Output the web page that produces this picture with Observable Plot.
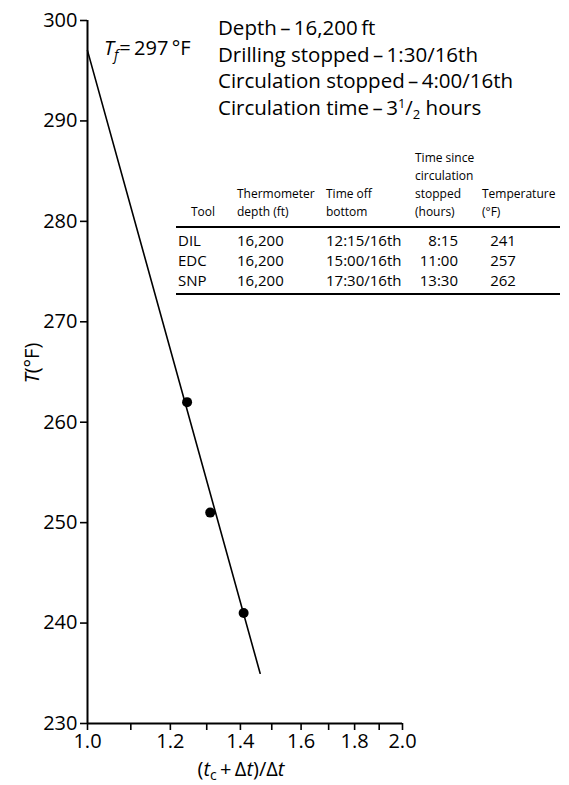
<!DOCTYPE html>
<html><head><meta charset="utf-8">
<script src="https://cdn.jsdelivr.net/npm/d3@7"></script>
<script src="https://cdn.jsdelivr.net/npm/@observablehq/plot@0.6"></script>
<style>
body{margin:0;background:#fff;}
#wrap{position:relative;width:569px;height:785px;font-family:"Open Sans",sans-serif;color:#000;}
.cell{position:absolute;white-space:nowrap;}
.hdr{font-size:12px;line-height:18px;}
.dat{font-size:15px;line-height:20px;}
.rule{position:absolute;left:176px;width:384px;height:2px;background:#000;}
</style></head>
<body><div id="wrap"></div>
<script>
// ---- data ----
const xTicks = [1.0,1.1,1.2,1.3,1.4,1.5,1.6,1.7,1.8,1.9,2.0];
const xTickLabels = ["1.0","","1.2","","1.4","","1.6","","1.8","","2.0"];
const yTicks = [230,240,250,260,270,280,290,300];
const pointX = [1.245, 1.31, 1.41];
const pointT = [262, 251, 241];
const fitX = [1.0, 1.462];
const fitT = [297, 235];
const tools = ["DIL","EDC","SNP"];
const depths = ["16,200","16,200","16,200"];
const timeOff = ["12:15/16th","15:00/16th","17:30/16th"];
const timeSince = ["8:15","11:00","13:30"];
const temps = ["241","257","262"];
const headers = ["Tool","Thermometer<br>depth (ft)","Time off<br>bottom","Time since<br>circulation<br>stopped<br>(hours)","Temperature<br>(°F)"];

const points = pointX.map((x,i)=>({x, t: pointT[i]}));
const fit = fitX.map((x,i)=>({x, t: fitT[i]}));
const xLabelOf = d => { const k = xTicks.findIndex(v => Math.abs(v - d) < 1e-6); return k >= 0 ? xTickLabels[k] : ""; };

const plot = Plot.plot({
  width: 569, height: 785,
  marginLeft: 87, marginRight: 167, marginTop: 20, marginBottom: 62,
  style: {fontFamily: '"Open Sans", sans-serif', background: "#fff", color: "#000"},
  x: {type: "log", domain: [1, 2]},
  y: {domain: [230, 300]},
  marks: [
    Plot.axisX({ticks: xTicks, tickFormat: xLabelOf, tickSize: 7, tickPadding: 3, fontSize: 20, strokeWidth: 1.6, label: null}),
    Plot.axisY({ticks: yTicks, tickFormat: d => String(d), tickSize: 7, tickPadding: 3, fontSize: 20, strokeWidth: 1.6, label: null}),
    Plot.ruleX([1], {stroke: "#000", strokeWidth: 2}),
    Plot.ruleY([230], {stroke: "#000", strokeWidth: 2}),
    Plot.line(fit, {x: "x", y: "t", stroke: "#000", strokeWidth: 1.6}),
    Plot.dot(points, {x: "x", y: "t", r: 5, fill: "#000", stroke: "none"})
  ]
});
const wrap = document.getElementById("wrap");
wrap.appendChild(plot);

const svg = d3.select(plot);
const ff = '"Open Sans", sans-serif';
// Tf label
const tf = svg.append("text").attr("x", 104).attr("y", 55).attr("text-anchor","start").attr("font-size", 20).attr("font-family", ff);
tf.append("tspan").attr("font-style","italic").text("T");
tf.append("tspan").attr("font-style","italic").attr("font-size",14).attr("dy",5).text("f");
tf.append("tspan").attr("dy",-5).attr("dx",1).text("=\u2009297\u2009°F");

// info lines
const infoY = [35, 61.5, 88, 114.5];
const infoLines = ["Depth\u2009–\u200916,200\u2009ft","Drilling stopped\u2009–\u20091:30/16th","Circulation stopped\u2009–\u20094:00/16th"];
infoLines.forEach((s,i)=>{
  svg.append("text").attr("x",218).attr("y",infoY[i]).attr("text-anchor","start").attr("font-size",20.5).attr("font-family",ff).text(s);
});
const l4 = svg.append("text").attr("x",218).attr("y",infoY[3]).attr("text-anchor","start").attr("font-size",20.5).attr("font-family",ff);
l4.append("tspan").text("Circulation time\u2009–\u20093");
l4.append("tspan").attr("font-size",13).attr("dy",-7).text("1");
l4.append("tspan").attr("dy",7).text("/");
l4.append("tspan").attr("font-size",13).attr("dy",4).text("2");
l4.append("tspan").attr("dy",-4).text(" hours");

// axis labels
const xl = svg.append("text").attr("x",241).attr("y",776).attr("text-anchor","middle").attr("font-size",20).attr("font-family",ff);
xl.append("tspan").text("(");
xl.append("tspan").attr("font-style","italic").text("t");
xl.append("tspan").attr("font-size",14).attr("dy",4).text("c");
xl.append("tspan").attr("dy",-4).text("\u2009+\u2009Δ");
xl.append("tspan").attr("font-style","italic").text("t");
xl.append("tspan").text(")/Δ");
xl.append("tspan").attr("font-style","italic").text("t");

const yl = svg.append("text").attr("transform","translate(39,363) rotate(-90)").attr("text-anchor","middle").attr("font-size",20).attr("font-family",ff);
yl.append("tspan").attr("font-style","italic").text("T");
yl.append("tspan").text("(°F)");

// table (HTML overlay)
const colX = [191, 237, 326, 415, 482];
headers.forEach((h,i)=>{
  const d = document.createElement("div");
  d.className = "cell hdr";
  d.style.left = colX[i] + "px";
  d.style.bottom = (785 - 221) + "px";
  d.innerHTML = h;
  wrap.appendChild(d);
});
const r1 = document.createElement("div"); r1.className="rule"; r1.style.top="226px"; wrap.appendChild(r1);
const r2 = document.createElement("div"); r2.className="rule"; r2.style.top="293px"; wrap.appendChild(r2);
const rowTop = [230, 250, 270];
const dataX = [178, 237, 326];
tools.forEach((t,i)=>{
  [t, depths[i], timeOff[i]].forEach((txt,j)=>{
    const d = document.createElement("div");
    d.className="cell dat"; d.style.left = dataX[j]+"px"; d.style.top = rowTop[i]+"px"; d.textContent = txt;
    wrap.appendChild(d);
  });
  const ts = document.createElement("div");
  ts.className="cell dat"; ts.style.left="400px"; ts.style.width="58px"; ts.style.textAlign="right"; ts.style.top=rowTop[i]+"px"; ts.textContent = timeSince[i];
  wrap.appendChild(ts);
  const tp = document.createElement("div");
  tp.className="cell dat"; tp.style.left="488px"; tp.style.width="30px"; tp.style.textAlign="center"; tp.style.top=rowTop[i]+"px"; tp.textContent = temps[i];
  wrap.appendChild(tp);
});
</script></body></html>
